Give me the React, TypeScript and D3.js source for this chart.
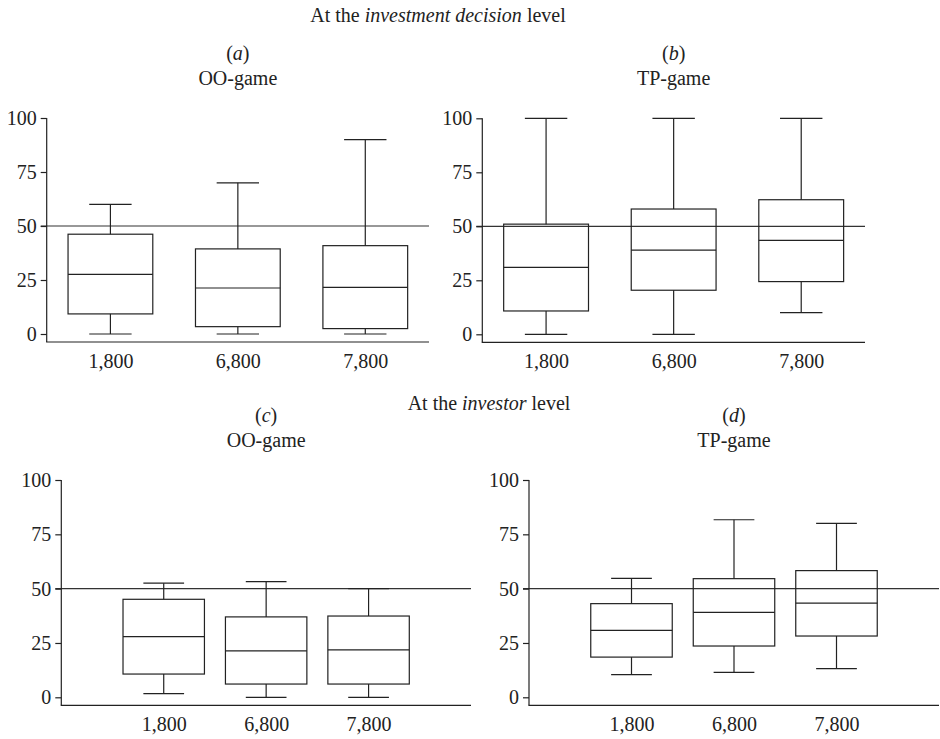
import React, { useEffect, useRef } from "react";
import * as d3 from "d3";

// category labels (initial endowment)
const categories = ["1,800", "6,800", "7,800"];
const yTicks = [0, 25, 50, 75, 100];

// (a) OO-game, investment decision level
const aMin = [0, 0, 0];
const aQ1 = [9.3, 3.4, 2.5];
const aMed = [27.6, 21.3, 21.6];
const aQ3 = [46.2, 39.4, 40.9];
const aMax = [60, 70, 90];

// (b) TP-game, investment decision level
const bMin = [0, 0, 10];
const bQ1 = [10.8, 20.4, 24.4];
const bMed = [31, 39, 43.5];
const bQ3 = [51, 58, 62.3];
const bMax = [100, 100, 100];

// (c) OO-game, investor level
const cMin = [1.7, 0, 0];
const cQ1 = [10.7, 6.1, 6.1];
const cMed = [27.9, 21.4, 21.8];
const cQ3 = [45.1, 37, 37.4];
const cMax = [52.5, 53.2, 50];

// (d) TP-game, investor level
const dMin = [10.4, 11.5, 13.2];
const dQ1 = [18.5, 23.6, 28.2];
const dMed = [30.8, 39.1, 43.3];
const dQ3 = [43.1, 54.6, 58.3];
const dMax = [54.7, 81.7, 80];

const refLine = 50;

const FONT = "'Liberation Serif', 'Times New Roman', serif";

function drawPanel(svg, p) {
  const xScale = d3.scalePoint()
    .domain(categories)
    .range([p.left, p.right])
    .padding(p.pad);

  const yScale = d3.scaleLinear()
    .domain([0, 100])
    .range([p.y0, p.y100]);

  const xAxisY = yScale(0) + 8;
  const boxW = xScale.step() * p.boxFrac;
  const capW = boxW / 2;

  const g = svg.append("g");

  // titles
  g.append("text")
    .attr("x", (p.left + p.right) / 2)
    .attr("y", p.y100 - 58)
    .attr("text-anchor", "middle")
    .style("font-size", "20px")
    .html(`(<tspan font-style="italic">${p.letter}</tspan>)`);
  g.append("text")
    .attr("x", (p.left + p.right) / 2)
    .attr("y", p.y100 - 33)
    .attr("text-anchor", "middle")
    .style("font-size", "20px")
    .text(p.game);

  // reference line at 50
  g.append("line")
    .attr("x1", p.left - 6)
    .attr("x2", p.right)
    .attr("y1", yScale(refLine))
    .attr("y2", yScale(refLine))
    .attr("stroke", "#333")
    .attr("stroke-width", 1.2);

  // y axis
  const yAxis = g.append("g")
    .attr("transform", `translate(${p.left},0)`)
    .call(d3.axisLeft(yScale).tickValues(yTicks).tickSize(6).tickPadding(4).tickSizeOuter(0));
  yAxis.select(".domain").remove();
  yAxis.selectAll("line").attr("stroke", "#222").attr("stroke-width", 1.2);
  yAxis.selectAll("text")
    .attr("fill", "#222")
    .style("font-size", "20px")
    .style("font-family", FONT);

  g.append("line")
    .attr("x1", p.left).attr("x2", p.left)
    .attr("y1", yScale(100)).attr("y2", xAxisY)
    .attr("stroke", "#222").attr("stroke-width", 1.2);

  // x axis
  const xAxis = g.append("g")
    .attr("transform", `translate(0,${xAxisY})`)
    .call(d3.axisBottom(xScale).tickSize(0).tickPadding(12));
  xAxis.select(".domain").remove();
  xAxis.selectAll("text")
    .attr("fill", "#222")
    .style("font-size", "20px")
    .style("font-family", FONT);

  g.append("line")
    .attr("x1", p.left - 0.6).attr("x2", p.right)
    .attr("y1", xAxisY).attr("y2", xAxisY)
    .attr("stroke", "#222").attr("stroke-width", 1.2);

  // boxes
  const rows = categories.map((c, i) => ({
    cat: c, min: p.min[i], q1: p.q1[i], med: p.med[i], q3: p.q3[i], max: p.max[i],
  }));

  const box = g.selectAll(".box")
    .data(rows)
    .enter().append("g")
    .attr("class", "box")
    .attr("stroke", "#222")
    .attr("stroke-width", 1.2)
    .attr("fill", "none");

  // whiskers
  box.append("line")
    .attr("x1", d => xScale(d.cat)).attr("x2", d => xScale(d.cat))
    .attr("y1", d => yScale(d.max)).attr("y2", d => yScale(d.q3));
  box.append("line")
    .attr("x1", d => xScale(d.cat)).attr("x2", d => xScale(d.cat))
    .attr("y1", d => yScale(d.q1)).attr("y2", d => yScale(d.min));
  box.append("line")
    .attr("x1", d => xScale(d.cat) - capW / 2).attr("x2", d => xScale(d.cat) + capW / 2)
    .attr("y1", d => yScale(d.max)).attr("y2", d => yScale(d.max));
  box.append("line")
    .attr("x1", d => xScale(d.cat) - capW / 2).attr("x2", d => xScale(d.cat) + capW / 2)
    .attr("y1", d => yScale(d.min)).attr("y2", d => yScale(d.min));

  box.append("rect")
    .attr("x", d => xScale(d.cat) - boxW / 2)
    .attr("width", boxW)
    .attr("y", d => yScale(d.q3))
    .attr("height", d => yScale(d.q1) - yScale(d.q3));

  box.append("line")
    .attr("x1", d => xScale(d.cat) - boxW / 2).attr("x2", d => xScale(d.cat) + boxW / 2)
    .attr("y1", d => yScale(d.med)).attr("y2", d => yScale(d.med));
}

export default function App() {
  const ref = useRef(null);

  useEffect(() => {
    const svg = d3.select(ref.current);
    svg.selectAll("*").remove();

    svg.append("text")
      .attr("x", 438)
      .attr("y", 22)
      .attr("text-anchor", "middle")
      .style("font-size", "20px")
      .html('At the <tspan font-style="italic">investment decision</tspan> level');

    svg.append("text")
      .attr("x", 489)
      .attr("y", 410)
      .attr("text-anchor", "middle")
      .style("font-size", "20px")
      .html('At the <tspan font-style="italic">investor</tspan> level');

    const panels = [
      { letter: "a", game: "OO-game", left: 46.7, right: 429, y100: 118, y0: 334, pad: 0.5, boxFrac: 0.665,
        min: aMin, q1: aQ1, med: aMed, q3: aQ3, max: aMax },
      { letter: "b", game: "TP-game", left: 482.3, right: 865, y100: 118.3, y0: 334.3, pad: 0.5, boxFrac: 0.665,
        min: bMin, q1: bQ1, med: bMed, q3: bQ3, max: bMax },
      { letter: "c", game: "OO-game", left: 61.3, right: 471, y100: 480, y0: 697.3, pad: 1, boxFrac: 0.795,
        min: cMin, q1: cQ1, med: cMed, q3: cQ3, max: cMax },
      { letter: "d", game: "TP-game", left: 529, right: 939, y100: 480, y0: 697.3, pad: 1, boxFrac: 0.795,
        min: dMin, q1: dQ1, med: dMed, q3: dQ3, max: dMax },
    ];

    panels.forEach(p => drawPanel(svg, p));
  }, []);

  return (
    <svg
      ref={ref}
      width={940}
      height={739}
      style={{ position: "absolute", left: 0, top: 0, background: "#fff", fontFamily: FONT, fill: "#222" }}
    />
  );
}
